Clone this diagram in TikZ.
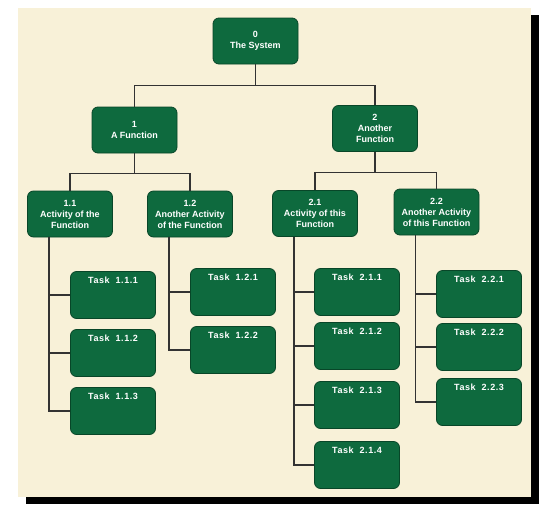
\documentclass[tikz,border=0pt]{standalone}
\usepackage{fontspec}
\setmainfont{Liberation Sans}
\usepackage{tikz}
\definecolor{paper}{RGB}{248,241,216}
\definecolor{boxgreen}{RGB}{14,106,62}
\definecolor{boxedge}{RGB}{8,70,40}
\tikzset{
	boxstyle/.style={rectangle,rounded corners=6pt,draw=boxedge,line width=0.8pt,fill=boxgreen,text=white,align=center,minimum width=85pt,minimum height=46pt,inner sep=1pt,font=\fontsize{9}{11}\selectfont\bfseries},
	taskstyle/.style={rectangle,rounded corners=6pt,draw=boxedge,line width=0.8pt,fill=boxgreen,text=white,minimum width=85pt,inner xsep=1pt,inner ysep=4pt,text height=8pt,text depth=31pt,font=\fontsize{9}{10}\selectfont\bfseries\addfontfeature{LetterSpace=6}},
	linkstyle/.style={draw=black!80,line width=1.1pt}
}
\begin{document}
\begin{tikzpicture}[x=1pt,y=-1pt]
		\useasboundingbox (0,0) rectangle (547,512);
		\fill[black] (26,15) rectangle (539,504);
		\fill[paper] (18,8) rectangle (531,497);
		\node[boxstyle] (root) at (255.5,41) {0\\The System};
		\node[boxstyle] (f1) at (134.5,130) {1\\A Function};
		\node[boxstyle] (f2) at (375,128.5) {2\\Another\\Function};
		\node[boxstyle] (a11) at (70,214) {1.1\\Activity of the\\Function};
		\node[boxstyle] (a12) at (190,214) {1.2\\Another Activity\\of the Function};
		\node[boxstyle] (a21) at (315,213.5) {2.1\\Activity of this\\Function};
		\node[boxstyle] (a22) at (436.5,212) {2.2\\Another Activity\\of this Function};
		\node[taskstyle] (t111) at (113,295) {Task~~1.1.1};
		\node[taskstyle] (t112) at (113,353) {Task~~1.1.2};
		\node[taskstyle] (t113) at (113,411) {Task~~1.1.3};
		\node[taskstyle] (t121) at (233,292) {Task~~1.2.1};
		\node[taskstyle] (t122) at (233,350) {Task~~1.2.2};
		\node[taskstyle] (t211) at (357,292) {Task~~2.1.1};
		\node[taskstyle] (t212) at (357,346) {Task~~2.1.2};
		\node[taskstyle] (t213) at (357,405) {Task~~2.1.3};
		\node[taskstyle] (t214) at (357,465) {Task~~2.1.4};
		\node[taskstyle] (t221) at (479,294) {Task~~2.2.1};
		\node[taskstyle] (t222) at (479,347) {Task~~2.2.2};
		\node[taskstyle] (t223) at (479,402) {Task~~2.2.3};
		\draw[linkstyle] (root.south) -- ++(0,21) -| (f1.north);
		\draw[linkstyle] (root.south) -- ++(0,21) -| (f2.north);
		\draw[linkstyle] (f1.south) -- ++(0,20) -| (a11.north);
		\draw[linkstyle] (f1.south) -- ++(0,20) -| (a12.north);
		\draw[linkstyle] (f2.south) -- ++(0,21) -| (a21.north);
		\draw[linkstyle] (f2.south) -- ++(0,21) -| (a22.north);
		\foreach \t in {t111,t112,t113}
			\draw[linkstyle] ([xshift=-21pt]a11.south) |- (\t.west);
		\foreach \t in {t121,t122}
			\draw[linkstyle] ([xshift=-21pt]a12.south) |- (\t.west);
		\foreach \t in {t211,t212,t213,t214}
			\draw[linkstyle] ([xshift=-21pt]a21.south) |- (\t.west);
		\foreach \t in {t221,t222,t223}
			\draw[linkstyle] ([xshift=-21pt]a22.south) |- (\t.west);
\end{tikzpicture}
\end{document}
